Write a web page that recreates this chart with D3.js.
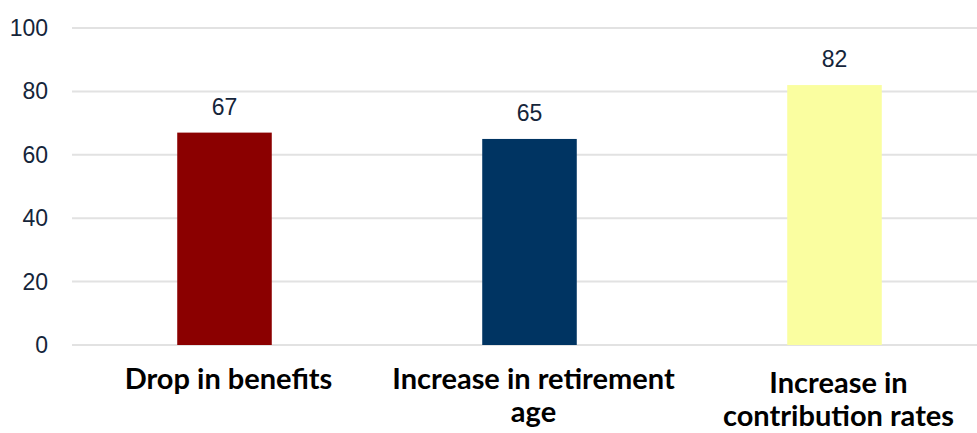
<!DOCTYPE html>
<meta charset="utf-8">
<style>
body { margin: 0; background: #fff; }
.grid line { stroke: #e2e2e2; stroke-width: 2px; }
.ytick { font-family: "Liberation Sans", Arial, sans-serif; font-size: 23px; fill: #15253a; }
.val { font-family: "Liberation Sans", Arial, sans-serif; font-size: 23px; fill: #15253a; }
.cat { font-family: Lato, "Open Sans", sans-serif; font-weight: bold; font-size: 29px; fill: #000; }
</style>
<body>
<script src="https://d3js.org/d3.v7.min.js"></script>
<script>

// data
var categories = ["Drop in benefits", "Increase in retirement age", "Increase in contribution rates"];
var catLines = [["Drop in benefits"], ["Increase in retirement", "age"], ["Increase in", "contribution rates"]];
var values = [67, 65, 82];
var colors = ["#8b0000", "#003462", "#fafea0"];
var yTicks = [0, 20, 40, 60, 80, 100];

var width = 977, height = 433;

var svg = d3.select("body").append("svg")
    .attr("width", width)
    .attr("height", height);

// scales
var x = d3.scaleBand().domain(categories).range([72, 987]).paddingInner(0.69).paddingOuter(0.345);
var y = d3.scaleLinear().domain([0, 100]).range([345, 28]);

// gridlines
svg.append("g").attr("class", "grid")
  .selectAll("line")
  .data(yTicks)
  .enter().append("line")
    .attr("x1", 72)
    .attr("x2", width)
    .attr("y1", function(d) { return y(d); })
    .attr("y2", function(d) { return y(d); });

// y tick labels
svg.selectAll(".ytick")
  .data(yTicks)
  .enter().append("text")
    .attr("class", "ytick")
    .attr("x", 48)
    .attr("y", function(d) { return y(d); })
    .attr("dy", "0.35em")
    .style("text-anchor", "end")
    .text(function(d) { return d; });

// bars
svg.selectAll(".bar")
  .data(values)
  .enter().append("rect")
    .attr("class", "bar")
    .attr("x", function(d, i) { return x(categories[i]); })
    .attr("width", x.bandwidth())
    .attr("y", function(d) { return y(d); })
    .attr("height", function(d) { return y(0) - y(d); })
    .attr("fill", function(d, i) { return colors[i]; });

// value labels
svg.selectAll(".val")
  .data(values)
  .enter().append("text")
    .attr("class", "val")
    .attr("x", function(d, i) { return x(categories[i]) + x.bandwidth() / 2; })
    .attr("y", function(d) { return y(d) - 18; })
    .style("text-anchor", "middle")
    .text(function(d) { return d; });

// category labels (last one sits a bit lower in the original)
var cat = svg.selectAll(".cat")
  .data(categories)
  .enter().append("text")
    .attr("class", "cat")
    .attr("x", function(d) { return x(d) + x.bandwidth() / 2 + 4; })
    .attr("y", function(d, i) { return i === 2 ? 393 : 389; })
    .style("text-anchor", "middle");

cat.selectAll("tspan")
  .data(function(d, i) { return catLines[i]; })
  .enter().append("tspan")
    .attr("x", function() { return d3.select(this.parentNode).attr("x"); })
    .attr("dy", function(d, i) { return i === 0 ? 0 : 33; })
    .text(function(d) { return d; });

</script>
</body>
